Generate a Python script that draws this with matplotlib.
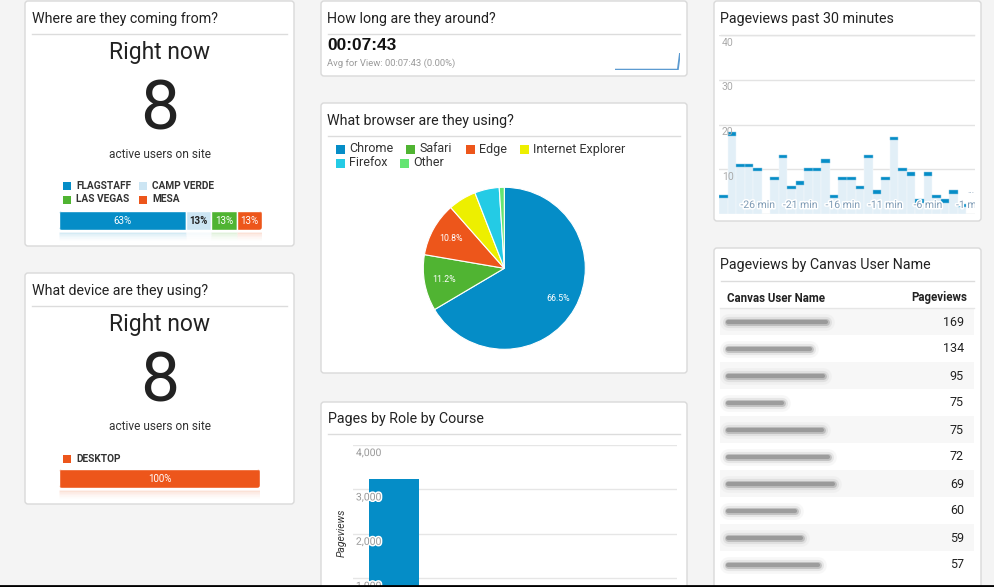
import matplotlib
matplotlib.use('Agg')
import matplotlib.pyplot as plt
from matplotlib.patches import FancyBboxPatch, Rectangle
from matplotlib.lines import Line2D
import matplotlib.patheffects as pe
import matplotlib.transforms as mtrans

plt.rcParams['font.family'] = ['Roboto', 'DejaVu Sans']

# ---------------- data ----------------
city_names = ['FLAGSTAFF', 'CAMP VERDE', 'LAS VEGAS', 'MESA']
city_users = [5, 1, 1, 1]
city_colors = ['#058dc7', '#cce5f3', '#50b432', '#ed561b']
active_users = 8
device_names = ['DESKTOP']
device_users = [8]
device_colors = ['#ed561b']
avg_time = '00:07:43'
avg_time_note = 'Avg for View: 00:07:43 (0.00%)'
spark_values = [0, 0, 0, 0, 0, 0, 0, 0, 0, 0, 0, 0, 0, 0, 0, 0,
                0, 0, 0, 0, 0, 0, 0, 0, 0, 0, 0, 0, 0, 0, 463]
browser_names = ['Chrome', 'Safari', 'Edge', 'Internet Explorer', 'Firefox', 'Other']
browser_share = [66.5, 11.2, 10.8, 5.6, 4.9, 1.0]
browser_colors = ['#058dc7', '#50b432', '#ed561b', '#edef00', '#24cbe5', '#64e572']
minutes = [-30, -29, -28, -27, -26, -25, -24, -23, -22, -21, -20, -19, -18, -17, -16,
           -15, -14, -13, -12, -11, -10, -9, -8, -7, -6, -5, -4, -3, -2, -1]
pageviews_30 = [4, 18, 11, 11, 10, 0, 8, 13, 6, 7, 10, 10, 12, 4, 8,
                8, 6, 13, 5, 8, 17, 10, 9, 3, 9, 4, 3, 5, 2, 0]
pv30_ticks = [10, 20, 30, 40]
role_courses = ['Course']
role_pageviews = [3230]
role_ticks = [1000, 2000, 3000, 4000]
user_pageviews = [169, 134, 95, 75, 75, 72, 69, 60, 59, 57]
blur_lengths = [98, 82, 95, 54, 94, 100, 105, 67, 73, 90]

# ---------------- figure ----------------
W, H = 995, 587
fig = plt.figure(figsize=(W / 100, H / 100), dpi=100)
fig.patch.set_facecolor('#f4f4f4')


def px_axes(x0, y0, x1, y1, z=1):
    ax = fig.add_axes([x0 / W, 1 - y1 / H, (x1 - x0) / W, (y1 - y0) / H])
    ax.set_zorder(z)
    ax.patch.set_alpha(0)
    return ax


bg = px_axes(0, 0, W, H, z=0)
bg.set_xlim(0, W)
bg.set_ylim(H, 0)
bg.axis('off')

cards = [(25, 1, 294, 246), (25, 273, 294, 504), (321, 1, 687, 76), (321, 103, 687, 373),
         (321, 402, 687, 640), (714, 1, 981, 221), (714, 248, 981, 640)]
for (x0, y0, x1, y1) in cards:
    bg.add_patch(FancyBboxPatch((x0, y0), x1 - x0, y1 - y0,
                                boxstyle='round,pad=0,rounding_size=3',
                                fc='white', ec='#d9d9d9', lw=1))

titles = [(32, 18, 34, 25, 294, 'Where are they coming from?'),
          (32, 290, 306, 25, 294, 'What device are they using?'),
          (327, 18, 34, 321, 687, 'How long are they around?'),
          (327, 120, 136, 321, 687, 'What browser are they using?'),
          (328, 419, 434, 321, 687, 'Pages by Role by Course'),
          (720, 18, 35, 714, 981, 'Pageviews past 30 minutes'),
          (720, 265, 281, 714, 981, 'Pageviews by Canvas User Name')]
for (tx, ty, uy, cx0, cx1, t) in titles:
    bg.text(tx, ty + 0.5, t, fontsize=10.3, color='#222222', va='center', ha='left')
    bg.plot([cx0 + 7, cx1 - 7], [uy, uy], color='#dcdcdc', lw=1)

# ---------------- "Right now" cards ----------------
for top in [0, 272]:
    bg.text(160, top + 52.5, 'Right now', fontsize=16.5, color='#222222', ha='center', va='center')
    bg.text(160, top + 110, str(active_users), fontsize=50, color='#222222',
            ha='center', va='center')
    bg.text(160, top + 154.5, 'active users on site', fontsize=8.6, color='#333333',
            ha='center', va='center')


def gauge(x0, y0, x1, names, counts, colors, legend_pos):
    for (lx, ly), n, c in zip(legend_pos, names, colors):
        bg.add_patch(Rectangle((lx, ly - 4), 8, 8, fc=c, ec='none'))
        bg.text(lx + 13, ly, n, fontsize=7.3, fontweight='bold', color='#333333',
                va='center', ha='left')
    ax = px_axes(x0, y0, x1, y0 + 31, z=2)
    total = sum(counts)
    ax.set_xlim(0, total)
    ax.set_ylim(31, 0)
    ax.axis('off')
    lefts = [sum(counts[:i]) for i in range(len(counts))]
    bars = ax.barh([9.5] * len(counts), counts, left=lefts, height=19,
                   color=colors, edgecolor='white', linewidth=1)
    xpx = (x1 - x0) / total
    clip = FancyBboxPatch((0, 0), total, 19, boxstyle='round,pad=0,rounding_size=%f' % (3 / xpx),
                          mutation_aspect=xpx, transform=ax.transData, fc='none', ec='none')
    ax.add_patch(clip)
    for b in bars:
        b.set_clip_path(clip)
    for k, a in enumerate([0.18, 0.10, 0.05, 0.02]):
        ax.barh([22 + 2 * k] * len(counts), counts, left=lefts, height=2,
                color=colors, edgecolor='white', linewidth=1, alpha=a)
    for l, v, c in zip(lefts, counts, colors):
        pct = int(100 * v / total + 0.5)
        light = c in ('#cce5f3',)
        ax.text(l + v / 2, 10, f'{pct}%', ha='center', va='center', fontsize=7,
                color='#222222' if light else 'white',
                fontweight='bold' if light else 'normal')


gauge(59, 211, 262, city_names, city_users, city_colors,
      [(63, 186), (139, 186), (63, 199.5), (139, 199.5)])
gauge(59, 469, 260, device_names, device_users, device_colors, [(63, 458.5)])

# ---------------- How long ----------------
bg.text(327, 45.5, avg_time, fontsize=12.5, fontweight='bold', color='#111111',
        family='Liberation Sans', va='center', ha='left')
bg.text(327, 63, avg_time_note, fontsize=6.8, color='#9a9a9a', va='center', ha='left')
sp = px_axes(615, 53, 680, 70, z=2)
sp.plot(range(len(spark_values)), spark_values, color='#5c9bd1', lw=1.3)
sp.set_xlim(0, len(spark_values) - 1)
sp.set_ylim(-10, max(spark_values))
sp.axis('off')

# ---------------- Browser pie ----------------
leg_pos = [(336, 149), (406, 149), (466, 149), (520, 149), (336, 163), (400, 163)]
for (lx, ly), n, c in zip(leg_pos, browser_names, browser_colors):
    bg.add_patch(Rectangle((lx, ly - 4.5), 9, 9, fc=c, ec='none'))
    bg.text(lx + 13, ly, n, fontsize=9, color='#333333', va='center', ha='left')

cx, cy, r = 504.3, 268.3, 81
pax = px_axes(cx - r, cy - r, cx + r, cy + r, z=2)
wedges, _, autot = pax.pie(browser_share, colors=browser_colors, startangle=90,
                           counterclock=False,
                           autopct=lambda p: f'{p:.1f}%' if p >= 10 else '',
                           pctdistance=0.76,
                           wedgeprops=dict(edgecolor='white', linewidth=0.8),
                           textprops=dict(color='white', fontsize=6.3))
pax.set_xlim(-1, 1)
pax.set_ylim(-1, 1)

# ---------------- Pageviews past 30 minutes ----------------
ax30 = px_axes(719.3, 35, 974.7, 214.3, z=2)
ax30.set_xlim(minutes[0] - 0.5, minutes[-1] + 0.5)
ax30.set_ylim(0, 40)
for s in ax30.spines.values():
    s.set_visible(False)
ax30.set_xticks([])
ax30.set_yticks([])
for t in pv30_ticks:
    ax30.axhline(t, color='#e3e3e3', lw=1, zorder=0)
ax30.axhline(0, color='#dcdcdc', lw=1, zorder=0)
ax30.bar(minutes, pageviews_30, width=1, color='#e2eff7', edgecolor='#f4f9fc',
         linewidth=0.35, zorder=1)
cap_m = [m for m, v in zip(minutes, pageviews_30) if v > 0]
cap_v = [v for v in pageviews_30 if v > 0]
ax30.bar(cap_m, [0.78] * len(cap_m), bottom=[v - 0.45 for v in cap_v], width=1,
         color='#058dc7', edgecolor='#8cc6e3', linewidth=0.35, zorder=2)
blend30 = mtrans.blended_transform_factory(ax30.transAxes, ax30.transData)
for t in pv30_ticks:
    ax30.annotate(str(t), xy=(0.01, t), xycoords=blend30, xytext=(0, -7.5),
                  textcoords='offset pixels', fontsize=7.5, color='#aaaaaa',
                  va='center', ha='left', zorder=3)
blendx = mtrans.blended_transform_factory(ax30.transData, ax30.transAxes)
halo = [pe.withStroke(linewidth=2.2, foreground='white')]
for m in minutes:
    if (m + 1) % 5 == 0:
        ax30.text(m, 0.052, f'{m} min', transform=blendx, fontsize=7.5, color='#7f9bb5',
                  ha='center', va='center', path_effects=halo, zorder=4, clip_on=True)
ax30.text(0.985, 0.13, '...', transform=ax30.transAxes, fontsize=6.5, color='#7f9bb5',
          ha='center', va='center', zorder=4)

# ---------------- Pages by Role by Course ----------------
y_top, y_zero = 445, 445 + 4 * 44.4
axr = px_axes(353, y_top, 677, y_zero, z=2)
axr.set_ylim(0, 4000)
axr.set_xlim(-0.82, 5.66)
for s in axr.spines.values():
    s.set_visible(False)
axr.set_xticks([])
axr.set_yticks([])
for t in role_ticks:
    axr.axhline(t, color='#e6e6e6', lw=1, zorder=0)
axr.bar(range(len(role_courses)), role_pageviews, width=1, color='#058dc7', zorder=1)
blendr = mtrans.blended_transform_factory(axr.transAxes, axr.transData)
for t in role_ticks:
    axr.annotate(f'{t:,}', xy=(0.009, t), xycoords=blendr, xytext=(0, -8),
                 textcoords='offset pixels', fontsize=7.5, color='#999999',
                 va='center', ha='left', zorder=3, path_effects=halo)
bg.text(342, 533, 'Pageviews', rotation=90, fontsize=7.5, style='italic',
        color='#333333', ha='center', va='center')

# ---------------- Table ----------------
bg.text(727, 298, 'Canvas User Name', fontsize=8.3, fontweight='bold', color='#222222',
        va='center', ha='left')
bg.text(967, 298, 'Pageviews', fontsize=8.3, fontweight='bold', color='#222222',
        va='center', ha='right')
bg.plot([720, 974], [308, 308], color='#e6e6e6', lw=1)
for i, (v, bl) in enumerate(zip(user_pageviews, blur_lengths)):
    y0 = 308 + 27 * i
    if i % 2 == 0:
        bg.add_patch(Rectangle((720, y0), 254, 27, fc='#f7f7f7', ec='none'))
    bg.text(964, y0 + 14, str(v), fontsize=9, color='#222222', va='center', ha='right')
    yc = y0 + 14
    for lw, a in [(12, 0.05), (8, 0.12), (5, 0.3), (3, 0.45)]:
        bg.plot([728, 728 + bl], [yc, yc], color='#707070', lw=lw, alpha=a,
                solid_capstyle='round')

# bottom black line
fig.add_artist(Line2D([0, 1], [1 - 586 / H, 1 - 586 / H], transform=fig.transFigure,
                      color='black', lw=2, zorder=10))

fig.savefig('out.png', dpi=100, facecolor=fig.get_facecolor())
